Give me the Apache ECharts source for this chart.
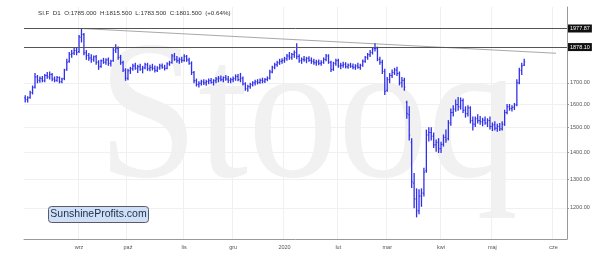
<!DOCTYPE html>
<html><head><meta charset="utf-8">
<script src="https://cdn.jsdelivr.net/npm/echarts@6/dist/echarts.min.js"></script>
<style>html,body{margin:0;padding:0;background:#fff}#c{width:600px;height:262px}</style>
</head><body><div id="c"></div>
<script>
// ---- data ----
const startDate = '2019-08-01', lastDataDate = '2020-05-20', axisEndDate = '2020-06-06';
const holidays = ['2019-09-02','2019-11-28','2019-12-25','2020-01-01','2020-04-10'];
const monthNames = ['2020','lut','mar','kwi','maj','cze','lip','sie','wrz','paź','lis','gru'];
// [open, high, low, close]
const ohlc = [
[1630,1640,1612,1622],[1622,1635,1612,1630],[1632,1660,1628,1652],[1655,1685,1648,1678],[1680,1745,1676,1728],
[1728,1735,1700,1712],[1712,1728,1703,1722],[1720,1730,1705,1710],[1710,1740,1705,1735],[1735,1750,1722,1728],
[1728,1752,1718,1740],[1740,1745,1710,1718],[1718,1728,1705,1712],[1712,1730,1708,1725],[1725,1728,1700,1705],
[1705,1722,1700,1718],[1720,1765,1715,1760],[1765,1815,1760,1800],[1805,1850,1800,1840],[1840,1860,1825,1845],
[1848,1875,1840,1860],[1860,1872,1838,1850],[1855,1940,1850,1932],[1930,1977.87,1905,1945],[1945,1950,1838,1848],
[1848,1860,1815,1835],[1835,1845,1810,1822],[1822,1838,1800,1815],[1815,1832,1805,1828],[1828,1835,1790,1800],
[1800,1808,1765,1778],[1780,1812,1775,1808],[1808,1820,1795,1800],[1800,1818,1790,1812],[1812,1822,1785,1795],
[1795,1810,1782,1805],[1808,1870,1805,1862],[1862,1890,1850,1872],[1870,1878,1815,1825],[1825,1835,1790,1798],
[1798,1805,1755,1762],[1760,1768,1712,1722],[1722,1765,1715,1758],[1758,1775,1745,1768],[1768,1790,1760,1782],
[1782,1795,1765,1770],[1770,1785,1750,1778],[1778,1790,1760,1765],[1765,1780,1748,1772],[1772,1795,1768,1788],
[1788,1795,1760,1768],[1768,1785,1758,1775],[1775,1790,1762,1770],[1770,1782,1752,1760],[1760,1778,1755,1772],
[1772,1790,1765,1782],[1782,1792,1770,1775],[1775,1785,1762,1770],[1770,1798,1768,1792],[1792,1805,1785,1798],
[1800,1840,1795,1832],[1832,1845,1810,1815],[1815,1830,1800,1808],[1808,1822,1795,1815],[1815,1825,1800,1810],
[1810,1838,1805,1830],[1830,1835,1805,1812],[1812,1820,1790,1795],[1795,1802,1740,1750],[1750,1755,1700,1710],
[1710,1718,1685,1692],[1692,1705,1680,1698],[1698,1712,1690,1705],[1705,1715,1692,1700],[1700,1712,1688,1706],
[1706,1718,1695,1710],[1710,1720,1698,1702],[1702,1715,1690,1710],[1710,1725,1700,1718],[1718,1730,1705,1722],
[1722,1732,1710,1715],[1715,1728,1705,1725],[1725,1735,1712,1718],[1718,1730,1702,1712],[1712,1722,1700,1715],
[1715,1728,1705,1720],[1720,1738,1712,1730],[1730,1740,1710,1715],[1715,1745,1705,1722],[1722,1728,1690,1695],
[1695,1700,1665,1672],[1672,1688,1660,1682],[1682,1698,1675,1692],[1692,1705,1685,1700],[1700,1712,1690,1705],
[1705,1715,1695,1702],[1702,1718,1698,1712],[1712,1722,1700,1708],[1708,1720,1702,1716],[1716,1728,1710,1722],
[1722,1760,1718,1752],[1752,1780,1748,1775],[1775,1795,1768,1788],[1788,1805,1780,1798],[1798,1815,1790,1805],
[1805,1818,1795,1810],[1810,1825,1800,1818],[1818,1840,1810,1832],[1832,1850,1815,1825],[1825,1845,1815,1840],
[1840,1858,1825,1850],[1850,1895,1818,1830],[1830,1838,1800,1808],[1808,1822,1795,1815],[1815,1830,1805,1812],
[1812,1825,1798,1820],[1820,1828,1805,1810],[1810,1822,1795,1805],[1805,1815,1790,1798],[1798,1810,1785,1802],
[1802,1812,1788,1795],[1795,1808,1785,1800],[1800,1822,1795,1815],[1815,1840,1808,1832],[1832,1838,1795,1800],
[1800,1805,1755,1765],[1765,1800,1760,1795],[1795,1815,1785,1808],[1808,1815,1775,1782],[1782,1795,1768,1785],
[1785,1800,1775,1790],[1790,1798,1772,1778],[1778,1792,1770,1786],[1786,1795,1775,1780],[1780,1792,1768,1775],
[1775,1788,1765,1782],[1782,1795,1770,1775],[1775,1790,1765,1785],[1785,1812,1780,1805],[1805,1830,1800,1825],
[1825,1845,1815,1838],[1838,1860,1830,1850],[1850,1875,1842,1868],[1870,1895,1858,1870],[1870,1878,1808,1815],
[1815,1825,1790,1800],[1800,1810,1745,1755],[1755,1765,1645,1660],[1665,1725,1660,1715],[1715,1745,1700,1735],
[1735,1762,1725,1750],[1750,1770,1740,1762],[1762,1775,1735,1745],[1745,1752,1690,1700],[1700,1725,1680,1712],
[1712,1722,1665,1680],[1610,1615,1540,1560],[1555,1590,1450,1470],[1440,1455,1270,1290],[1285,1320,1200,1230],
[1230,1265,1170,1190],[1190,1262,1180,1240],[1240,1265,1205,1250],[1250,1340,1240,1325],[1330,1490,1325,1470],
[1470,1500,1445,1480],[1480,1500,1450,1465],[1465,1478,1420,1430],[1430,1450,1405,1440],[1440,1455,1400,1415],
[1415,1440,1400,1432],[1432,1470,1425,1460],[1460,1490,1440,1450],[1455,1530,1450,1520],[1520,1580,1510,1565],
[1565,1595,1550,1580],[1580,1620,1570,1600],[1600,1632,1575,1590],[1590,1630,1580,1618],[1618,1625,1565,1575],
[1575,1590,1545,1560],[1560,1595,1550,1585],[1585,1590,1520,1530],[1530,1545,1490,1515],[1515,1545,1505,1538],
[1538,1555,1520,1530],[1530,1548,1515,1525],[1525,1540,1508,1532],[1532,1545,1515,1520],[1520,1538,1505,1530],
[1530,1545,1495,1505],[1505,1520,1488,1512],[1512,1525,1490,1498],[1498,1515,1485,1505],[1505,1518,1488,1495],
[1495,1525,1490,1515],[1515,1575,1510,1565],[1565,1600,1560,1590],[1590,1600,1575,1582],[1582,1595,1572,1588],
[1588,1605,1578,1598],[1600,1715,1595,1700],[1700,1770,1695,1760],[1760,1795,1740,1782],[1785,1815.5,1783.5,1801.5]
];
const yTicks = [1200,1300,1400,1500,1600,1700];
const levelHigh = 1977.87, levelMid = 1878.10, lastClose = 1801.50;
const trendStart = ['2019-09-04', 1977.87], trendEnd = ['2020-06-02', 1846];
const titleText = 'SI.F  D1  O:1785.000  H:1815.500  L:1783.500  C:1801.500  (+0.64%)';

// ---- categories: trading days for data, calendar days after ----
function fmt(d){return d.toISOString().slice(0,10);}
const cats = [];
{
  let d = new Date(startDate+'T00:00:00Z');
  const end = new Date(lastDataDate+'T00:00:00Z');
  while (d <= end) {
    const wd = d.getUTCDay(), s = fmt(d);
    if (wd !== 0 && wd !== 6 && holidays.indexOf(s) < 0) cats.push(s);
    d = new Date(d.getTime() + 86400000);
  }
  const e2 = new Date(axisEndDate+'T00:00:00Z');
  while (d <= e2) { cats.push(fmt(d)); d = new Date(d.getTime() + 86400000); }
}
const firstOfMonth = {};
cats.forEach((s,i)=>{const k=s.slice(0,7); if(!(k in firstOfMonth)) firstOfMonth[k]=i;});
const isMonthStart = (i)=> i>0 && firstOfMonth[cats[i].slice(0,7)] === i;

const barData = ohlc.map((r,i)=>[i, r[0], r[1], r[2], r[3]]);
const barColor = '#3030ea';

const chart = echarts.init(document.getElementById('c'), null, {renderer:'canvas'});
chart.setOption({
  animation:false,
  backgroundColor:'#fff',
  grid:{left:24, right:33, top:7, bottom:23},
  graphic:[
    {type:'text', z:0, x:98, y:124, scaleY:1.09, originX:0, originY:0,
     style:{text:'Stooq', font:'180px "Liberation Serif"', fill:'#f1f1f1', verticalAlign:'middle', align:'left'}},
    {type:'text', z:10, x:38, y:13,
     style:{text:titleText, font:'6.2px "Liberation Sans"', fill:'#333', verticalAlign:'middle'}},
    {type:'rect', z:10, shape:{x:48.5, y:206.5, width:100, height:16, r:3},
     style:{fill:'#cfe0f6', stroke:'#5a5a6a', lineWidth:1}},
    {type:'text', z:11, x:98.5, y:214.5,
     style:{text:'SunshineProfits.com', font:'10.5px "Liberation Sans"', fill:'#1d2b4c', align:'center', verticalAlign:'middle'}}
  ],
  xAxis:{
    type:'category', data:cats, boundaryGap:true,
    axisLine:{lineStyle:{color:'#999', width:1}},
    axisTick:{interval:(i)=>isMonthStart(i), length:2, lineStyle:{color:'#999'}},
    axisLabel:{interval:(i)=>isMonthStart(i), formatter:(v)=>monthNames[(+v.slice(5,7))-1],
      fontSize:5.5, color:'#555', margin:5, fontFamily:'Liberation Sans'},
    splitLine:{show:true, interval:(i)=>isMonthStart(i), lineStyle:{color:'#f0f0f0', width:1}}
  },
  yAxis:{
    type:'log', position:'right', min:1100, max:2100, logBase:10,
    axisLine:{show:true, lineStyle:{color:'#999'}},
    axisTick:{show:true, customValues:yTicks, length:2, lineStyle:{color:'#999'}},
    axisLabel:{customValues:yTicks, formatter:(v)=>Number(v).toFixed(2), fontSize:5.5, color:'#555', margin:3, fontFamily:'Liberation Sans'},
    splitLine:{show:true, lineStyle:{color:'#f0f0f0'}}
  },
  series:[
    {type:'line', data:[trendStart, trendEnd], symbol:'none', silent:true, z:3,
     lineStyle:{color:'#a8a8a8', width:1},
     markLine:{silent:true, symbol:['none','none'], animation:false,
       label:{position:'end', distance:1, fontSize:5.5, color:'#fff', backgroundColor:'#111', padding:[1,2], fontFamily:'Liberation Sans'},
       data:[
         {yAxis:levelHigh, label:{formatter:levelHigh.toFixed(2)}, lineStyle:{color:'#555', width:1, type:'solid'}},
         {yAxis:levelMid, label:{formatter:levelMid.toFixed(2)}, lineStyle:{color:'#555', width:1, type:'solid'}},
         {yAxis:lastClose, label:{formatter:lastClose.toFixed(2)}, lineStyle:{opacity:0}}
       ]}
    },
    {type:'custom', z:4, data:barData, encode:{x:0, y:[1,2,3,4]},
     renderItem:(params, api)=>{
       const x = api.value(0);
       const o = api.coord([x, api.value(1)]), h = api.coord([x, api.value(2)]),
             l = api.coord([x, api.value(3)]), c = api.coord([x, api.value(4)]);
       const w = 1;
       const st = {stroke:barColor, lineWidth:1};
       return {type:'group', children:[
         {type:'line', shape:{x1:h[0], y1:h[1]-0.5, x2:l[0], y2:l[1]+0.5}, style:{stroke:barColor, lineWidth:1.3}},
         {type:'line', shape:{x1:o[0]-w, y1:o[1], x2:o[0], y2:o[1]}, style:st},
         {type:'line', shape:{x1:c[0], y1:c[1], x2:c[0]+w, y2:c[1]}, style:st}
       ]};
     }}
  ]
});
</script></body></html>
